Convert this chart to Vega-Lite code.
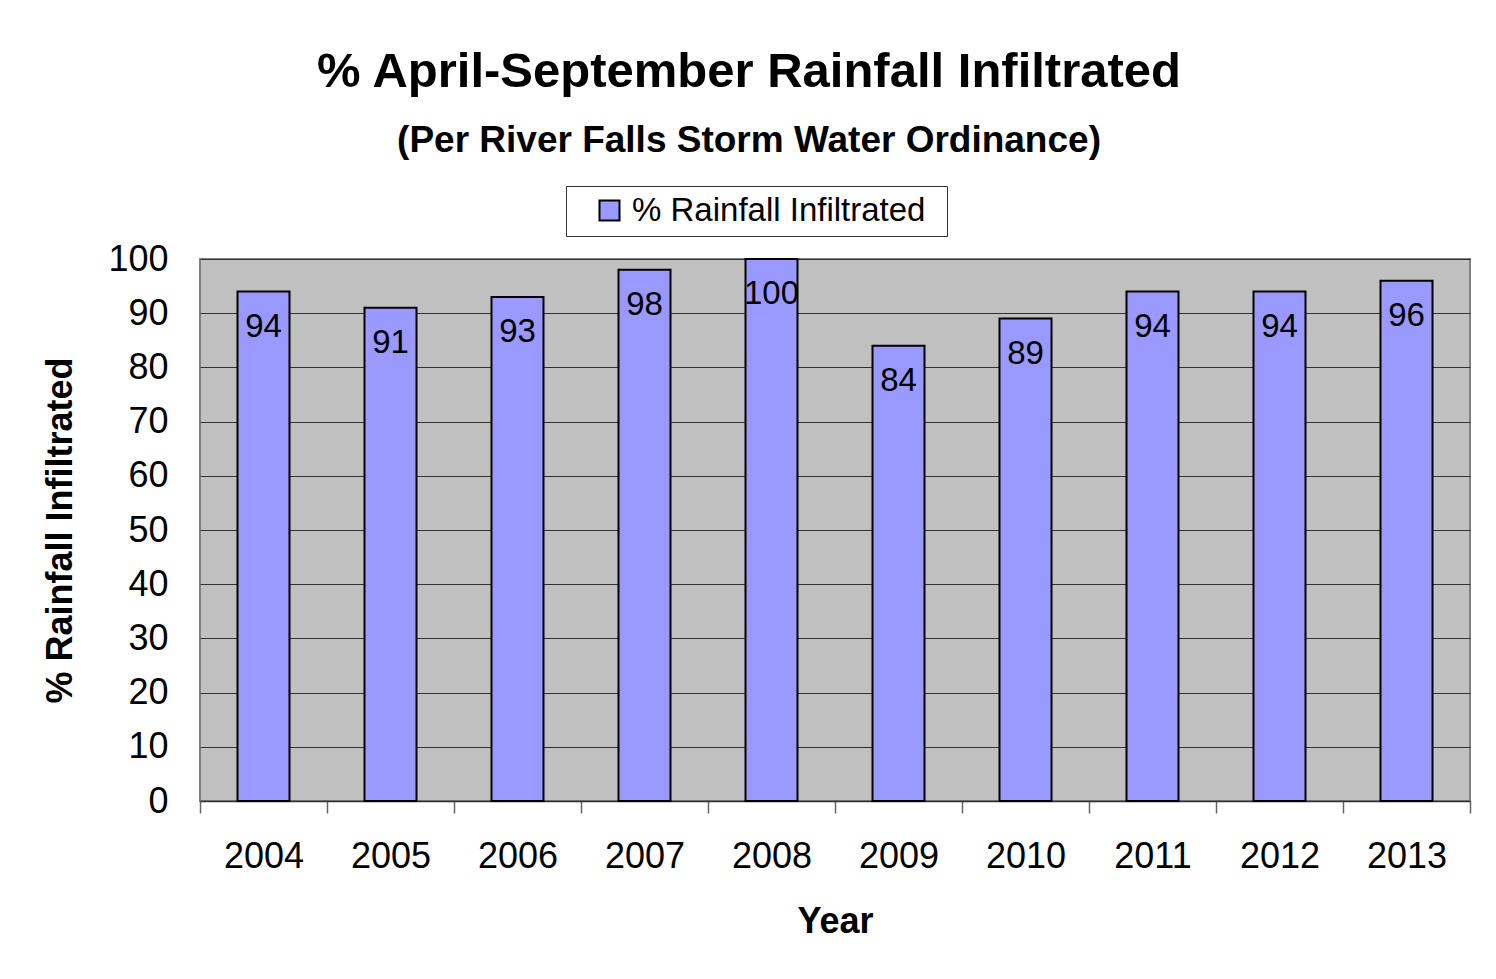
{
  "$schema": "https://vega.github.io/schema/vega-lite/v6.json",
  "width": 1270,
  "height": 542,
  "autosize": {"type": "none"},
  "padding": {"left": 200, "top": 259, "right": 26, "bottom": 178},
  "background": "white",
  "title": {
    "text": "% April-September Rainfall Infiltrated",
    "subtitle": "(Per River Falls Storm Water Ordinance)",
    "font": "Liberation Sans",
    "fontSize": 49,
    "fontWeight": "bold",
    "color": "black",
    "subtitleFont": "Liberation Sans",
    "subtitleFontSize": 37,
    "subtitleFontWeight": "bold",
    "subtitleColor": "black",
    "subtitlePadding": 26,
    "anchor": "middle",
    "frame": "group",
    "dx": -86,
    "offset": 27
  },
  "data": {
    "values": [
      {"year": 2004, "pct": 94, "series": "% Rainfall Infiltrated"},
      {"year": 2005, "pct": 91, "series": "% Rainfall Infiltrated"},
      {"year": 2006, "pct": 93, "series": "% Rainfall Infiltrated"},
      {"year": 2007, "pct": 98, "series": "% Rainfall Infiltrated"},
      {"year": 2008, "pct": 100, "series": "% Rainfall Infiltrated"},
      {"year": 2009, "pct": 84, "series": "% Rainfall Infiltrated"},
      {"year": 2010, "pct": 89, "series": "% Rainfall Infiltrated"},
      {"year": 2011, "pct": 94, "series": "% Rainfall Infiltrated"},
      {"year": 2012, "pct": 94, "series": "% Rainfall Infiltrated"},
      {"year": 2013, "pct": 96, "series": "% Rainfall Infiltrated"}
    ]
  },
  "encoding": {
    "x": {
      "field": "year",
      "type": "quantitative",
      "scale": {"domain": [2003.5, 2013.5], "nice": false, "zero": false, "padding": 0},
      "axis": {
        "title": "Year",
        "values": [2003.5, 2004.5, 2005.5, 2006.5, 2007.5, 2008.5, 2009.5, 2010.5, 2011.5, 2012.5, 2013.5],
        "labelExpr": "datum.value < 2013 ? toString(datum.value + 0.5) : ''",
        "labelOffset": 63.5,
        "labelFlush": false,
        "labelOverlap": false,
        "labelBound": false,
        "labelAngle": 0,
        "labelFont": "Liberation Sans",
        "labelFontSize": 36,
        "labelColor": "black",
        "labelPadding": 26,
        "titleFont": "Liberation Sans",
        "titleFontSize": 36,
        "titleFontWeight": "bold",
        "titleColor": "black",
        "titlePadding": 30,
        "tickSize": 12,
        "tickColor": "#666666",
        "tickWidth": 1.5,
        "domainColor": "#333333",
        "domainWidth": 1.5,
        "grid": false
      }
    },
    "y": {
      "field": "pct",
      "type": "quantitative",
      "scale": {"domain": [0, 100], "nice": false},
      "axis": {
        "title": "% Rainfall Infiltrated",
        "values": [0, 10, 20, 30, 40, 50, 60, 70, 80, 90, 100],
        "labelFont": "Liberation Sans",
        "labelFontSize": 36,
        "labelColor": "black",
        "labelPadding": 32,
        "ticks": false,
        "domain": false,
        "titleFont": "Liberation Sans",
        "titleFontSize": 36,
        "titleFontWeight": "bold",
        "titleColor": "black",
        "titlePadding": 28,
        "grid": true,
        "gridColor": "#333333",
        "gridWidth": 1.2,
        "gridOpacity": 1
      }
    }
  },
  "layer": [
    {
      "mark": {"type": "bar", "width": 52, "stroke": "black", "strokeWidth": 2},
      "encoding": {
        "color": {
          "field": "series",
          "type": "nominal",
          "scale": {"range": ["#9999FF"]},
          "legend": {
            "title": "\u00a0",
            "titleOrient": "right",
            "titlePadding": 14,
            "titleFontSize": 10,
            "orient": "none",
            "legendX": 366,
            "legendY": -73,
            "direction": "horizontal",
            "symbolType": "square",
            "symbolSize": 400,
            "symbolStrokeColor": "black",
            "symbolStrokeWidth": 2,
            "symbolOpacity": 1,
            "symbolOffset": 19,
            "labelOffset": 6,
            "labelFont": "Liberation Sans",
            "labelFontSize": 33,
            "labelColor": "black",
            "labelLimit": 600,
            "strokeColor": "#333333",
            "fillColor": "white",
            "padding": 8
          }
        }
      }
    },
    {
      "mark": {
        "type": "text",
        "font": "Liberation Sans",
        "fontSize": 33,
        "color": "black",
        "baseline": "middle",
        "dy": 35
      },
      "encoding": {"text": {"field": "pct", "type": "quantitative"}}
    }
  ],
  "config": {
    "view": {"fill": "#C0C0C0", "stroke": "#808080", "strokeWidth": 2}
  }
}
